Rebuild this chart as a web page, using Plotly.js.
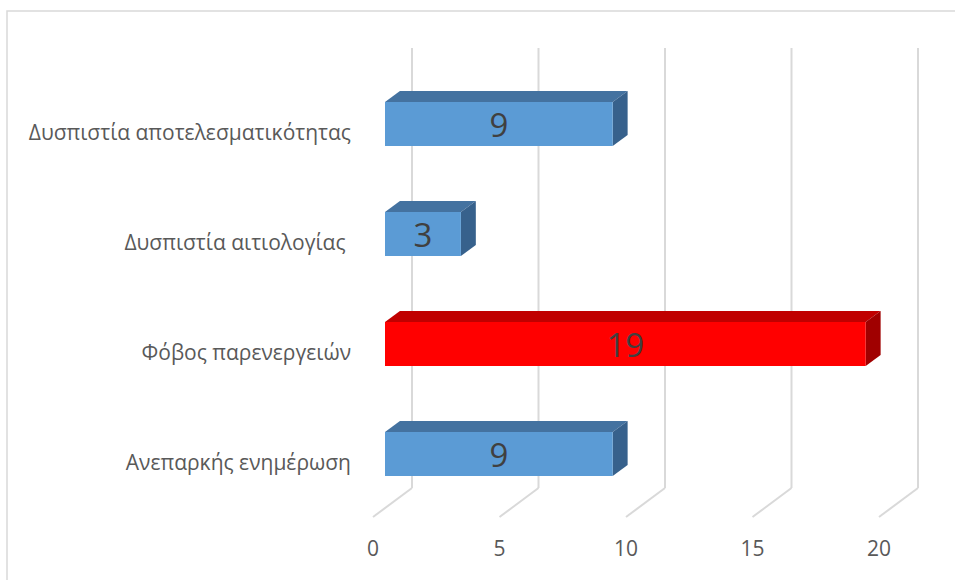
<!DOCTYPE html>
<html>
<head>
<meta charset="utf-8">
<script src="https://cdn.plot.ly/plotly-3.0.1.min.js"></script>
<style>html,body{margin:0;padding:0;background:#fff;}#chart{width:955px;height:580px;}</style>
</head>
<body>
<div id="chart"></div>
<script>
// Data (bottom to top, as in the Excel source order)
var categories = ["Ανεπαρκής ενημέρωση", "Φόβος παρενεργειών", "Δυσπιστία αιτιολογίας ", "Δυσπιστία αποτελεσματικότητας"];
var values = [9, 19, 3, 9];
var frontColors = ["#5B9BD5", "#FF0000", "#5B9BD5", "#5B9BD5"];
var topColors = ["#4472A0", "#C00000", "#4472A0", "#4472A0"];
var sideColors = ["#37618C", "#A00000", "#37618C", "#37618C"];
var xTicks = [0, 5, 10, 15, 20];

var positions = categories.map(function (c, i) { return i; });
var barHalf = 0.2;     // half bar thickness (y units)
var depthX = 0.59;     // depth offset in x units
var depthY = 0.1;      // depth offset in y units

// plot geometry
var W = 955, H = 580, mL = 365, mR = 30, mT = 48, mB = 92;
var pw = W - mL - mR, ph = H - mT - mB;
var pxPerUnit = 25.3;
var xMin = -(mL === 365 ? 20 : 0) / pxPerUnit;
var xMax = xMin + pw / pxPerUnit;
function px2paperX(px) { return (px - mL) / pw; }
function px2paperY(py) { return (H - mB - py) / ph; }

var shapes = [];
// chart area border
shapes.push({type: "rect", xref: "paper", yref: "paper",
  x0: px2paperX(7), x1: px2paperX(970), y0: px2paperY(600), y1: px2paperY(11),
  line: {color: "#D9D9D9", width: 1.5}, fillcolor: "rgba(0,0,0,0)", layer: "below"});
// back-wall gridlines and floor lines
xTicks.forEach(function (t) {
  shapes.push({type: "line", xref: "x", xsizemode: "pixel", xanchor: t, x0: 27, x1: 27,
    yref: "paper", y0: 0, y1: 1, line: {color: "#D9D9D9", width: 2}, layer: "below"});
  shapes.push({type: "line", xref: "x", xsizemode: "pixel", xanchor: t, x0: 27, x1: -12,
    yref: "paper", ysizemode: "pixel", yanchor: 0, y0: 0, y1: -29, line: {color: "#D9D9D9", width: 2}, layer: "below"});
});
// 3D faces of bars
positions.forEach(function (p, i) {
  var v = values[i];
  var yt = p + barHalf, yb = p - barHalf;
  shapes.push({type: "path", xref: "x", yref: "y", layer: "below",
    path: "M 0," + yt + " L " + v + "," + yt + " L " + (v + depthX) + "," + (yt + depthY) + " L " + depthX + "," + (yt + depthY) + " Z",
    fillcolor: topColors[i], line: {width: 0}});
  shapes.push({type: "path", xref: "x", yref: "y", layer: "below",
    path: "M " + v + "," + yb + " L " + v + "," + yt + " L " + (v + depthX) + "," + (yt + depthY) + " L " + (v + depthX) + "," + (yb + depthY) + " Z",
    fillcolor: sideColors[i], line: {width: 0}});
});

var trace = {
  type: "bar", orientation: "h",
  x: values, y: positions, width: 2 * barHalf,
  marker: {color: frontColors, line: {width: 0}},
  text: values.map(String), textposition: "inside", insidetextanchor: "middle",
  textangle: 0, constraintext: "none",
  textfont: {family: "Open Sans, sans-serif", size: 33, color: "#404040"},
  hoverinfo: "none"
};

var layout = {
  width: W, height: H,
  margin: {l: mL, r: mR, t: mT, b: mB},
  paper_bgcolor: "#FFFFFF", plot_bgcolor: "rgba(0,0,0,0)",
  showlegend: false,
  xaxis: {range: [xMin, xMax], tickvals: xTicks, ticktext: xTicks.map(String),
    showgrid: false, zeroline: false, showline: false, ticks: "",
    ticklabelstandoff: 46, ticklabelshift: -12,
    tickfont: {family: "Open Sans, sans-serif", size: 21, color: "#595959"}},
  yaxis: {range: [-0.309, 3.691], tickvals: positions, ticktext: categories,
    showgrid: false, zeroline: false, showline: false, ticks: "",
    ticklabelstandoff: 13, ticklabelshift: 9,
    tickfont: {family: "Open Sans, sans-serif", size: 21, color: "#595959"}},
  shapes: shapes
};

Plotly.newPlot("chart", [trace], layout, {displayModeBar: false, staticPlot: true});
</script>
</body>
</html>
